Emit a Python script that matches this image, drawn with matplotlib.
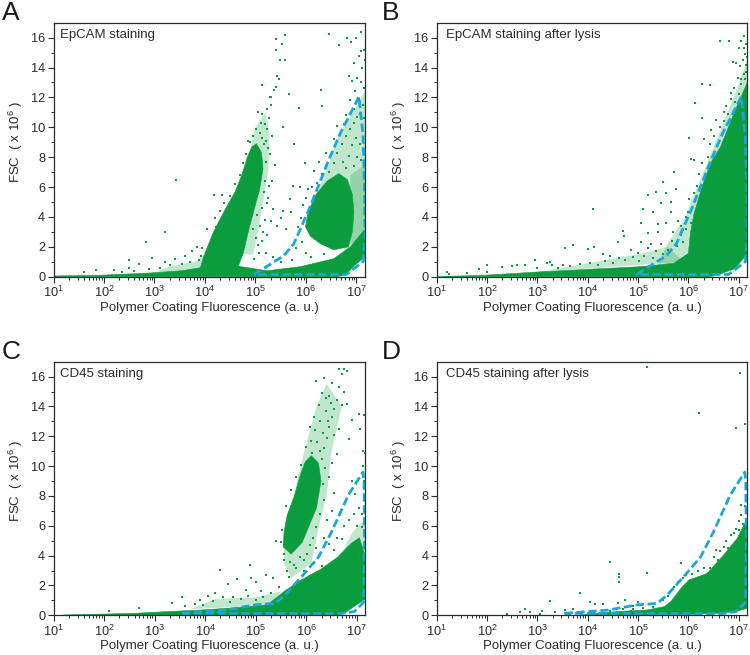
import numpy as np
import matplotlib
matplotlib.use('Agg')
import matplotlib.pyplot as plt
from matplotlib.ticker import FixedLocator, NullFormatter

plt.rcParams['font.family'] = ['Liberation Sans', 'DejaVu Sans']
plt.rcParams['mathtext.default'] = 'regular'

GREEN = '#0b9c3e'
BLUE = '#1ba6d8'
DARK = '#2b2b2b'

# everything below as (log10 fluorescence, FSC x 1e6)
titles = ['EpCAM staining', 'EpCAM staining after lysis', 'CD45 staining', 'CD45 staining after lysis']
letters = ['A', 'B', 'C', 'D']

# gates (dashed blue outlines)
gate_epcam = [(4.97, 0.15), (5.16, 0.55), (5.56, 1.4), (5.76, 2.2), (6.06, 4.5), (6.45, 7.8), (6.68, 9.6),
              (6.85, 10.7), (7.05, 12.05), (7.13, 9.5), (7.16, 6.0), (7.17, 2.5), (7.13, 1.0), (6.8, 0.15), (4.97, 0.15)]
gate_cd45 = [(3.54, 0.13), (4.4, 0.35), (4.99, 0.7), (5.38, 0.8), (5.58, 1.36), (5.91, 2.6), (6.24, 3.9), (6.5, 5.6),
             (6.83, 8.06), (7.12, 9.6), (7.14, 9.0), (7.15, 5.4), (7.14, 0.9), (6.95, 0.25), (6.65, 0.1), (3.54, 0.13)]

# dense areas, outlined
a_core = [[(1.0, 0), (1.0, 0.05), (1.93, 0.1), (2.92, 0.25), (3.54, 0.4), (3.91, 0.6), (3.97, 1.3), (4.05, 2.0), (4.17, 3.0),
           (4.4, 4.5), (4.6, 5.7), (4.74, 6.9), (4.84, 8.0), (4.93, 8.7), (5.02, 8.9), (5.12, 8.3), (5.15, 7.2), (5.08, 5.8),
           (4.95, 4.2), (4.85, 2.9), (4.76, 1.6), (4.66, 0.7), (5.23, 0.4), (5.89, 0.67), (6.55, 1.2), (6.88, 2.0), (7.15, 3.1),
           (7.18, 3.1), (7.18, 1.6), (7.15, 1.3), (6.95, 0.7), (6.78, 0.1), (6.6, 0), (1.0, 0)],
          [(5.99, 3.35), (6.05, 4.4), (6.2, 5.5), (6.42, 6.4), (6.65, 6.9), (6.82, 6.5), (6.92, 5.5), (6.95, 4.3), (6.92, 3.0),
           (6.84, 2.0), (6.55, 1.8), (6.29, 2.2), (6.09, 2.7)]]
a_halo = [[(6.2, 5.5), (6.45, 7.5), (6.65, 9.5), (6.85, 10.5), (7.18, 12.5), (7.18, 1), (6.8, 1.5)],
          [(6.88, 6.8), (7.18, 7.5), (7.18, 2.6), (6.88, 2.2)],
          [(4.9, 8.5), (5.0, 10), (5.2, 11), (5.28, 9.5), (5.25, 7), (5.15, 5), (5.05, 3), (4.95, 1.5), (4.7, 1.5)],
          [(3.0, 0.25), (3.3, 0.7), (3.8, 1.0), (4.05, 1.6), (4.1, 0.4)]]
b_core = [[(1.0, 0), (1.96, 0.1), (3.08, 0.33), (4.0, 0.49), (5.05, 0.67), (5.71, 0.9), (6.0, 1.56), (6.04, 2.9), (6.11, 4.2),
           (6.27, 6.0), (6.44, 7.6), (6.64, 8.7), (6.9, 10.9), (7.17, 13), (7.17, 1.56), (6.93, 0.55), (6.57, 0.1), (6.4, 0), (1.0, 0)]]
b_halo = [[(5.4, 0.8), (5.6, 2.3), (5.95, 4), (6.05, 5), (6.3, 7), (6.6, 9.5), (6.9, 12), (7.17, 14.5), (7.17, 8), (6.2, 1)],
          [(3.0, 0.3), (4.0, 0.9), (5.0, 1.5), (5.6, 2.0), (5.9, 1.0)]]
c_core = [[(5.56, 5.6), (5.62, 6.7), (5.77, 8.06), (5.88, 9.4), (5.98, 10.3), (6.1, 10.7), (6.24, 10.2), (6.29, 9.0), (6.2, 7.2),
           (6.06, 6.05), (5.92, 4.9), (5.7, 4.1), (5.54, 4.6)],
          [(1.2, 0.02), (2.59, 0.13), (3.25, 0.25), (3.9, 0.35), (4.57, 0.5), (5.23, 0.7), (5.56, 1.6), (5.89, 2.35), (6.29, 3.1),
           (6.62, 3.9), (6.88, 4.8), (7.05, 5.2), (7.17, 3.9), (7.17, 1.1), (6.95, 0.6), (6.75, 0.13), (6.6, 0), (1.2, 0)]]
c_halo = [[(5.56, 3.5), (5.55, 5), (5.85, 9.5), (6.0, 11.5), (6.2, 14), (6.4, 15.5), (6.7, 14), (6.5, 11), (6.4, 8), (6.25, 6),
           (6.1, 3.5), (5.7, 2.5)],
          [(6.6, 3.5), (6.9, 5.5), (7.17, 6.5), (7.17, 3), (7, 1.5), (6.7, 1)],
          [(3.7, 0.4), (4.2, 1.1), (5.0, 1.2), (5.5, 1.6), (5.3, 0.7)]]
d_core = [[(3.87, 0.03), (4.59, 0.25), (5.19, 0.36), (5.52, 0.58), (5.65, 0.92), (5.85, 1.8), (6.01, 2.37), (6.37, 2.8), (6.7, 4.04),
           (6.97, 5.16), (7.17, 6.5), (7.17, 0.47), (6.98, 0.3), (6.7, 0.15), (5.9, 0.05)]]
d_halo = []

# single events outside the dense areas
a_dots = [(5.41, 15.9), (5.59, 16.15), (5.53, 15.6), (5.4, 15.2), (5.49, 14.5), (5.59, 14.5), (5.43, 13.4), (5.46, 13.2), (5.4, 12.7),
          (5.13, 12.8), (5.36, 12.5), (5.3, 12.05), (5.66, 12.2), (5.87, 11.3), (6.29, 12.5), (6.32, 11.4), (5.55, 10), (5.76, 8.9),
          (3.43, 6.5), (3.2, 3), (2.84, 2.35), (2.49, 1.15), (4.17, 5.5), (4.34, 5.5), (6.45, 16.25), (6.82, 16), (6.65, 15.5),
          (6.9, 15.7), (7.0, 16), (7.1, 16.4), (7.15, 15.2), (7.1, 15.1), (7.05, 14.8), (6.95, 14.3), (7.12, 14), (7.17, 14.5),
          (6.85, 13.4), (6.92, 13.1), (7.02, 13.3), (7.1, 13), (7.15, 12.6), (6.97, 12.4), (7.05, 11.9), (7.14, 11.5), (6.88, 11.8),
          (6.95, 11.2), (7.08, 10.9), (7.16, 10.6), (6.8, 10.8), (6.75, 10.2), (6.62, 10.1), (6.55, 9.2), (6.4, 8.3), (6.25, 7.7),
          (6.15, 7.1), (5.98, 7.6), (5.88, 6.0), (5.75, 6.1), (5.68, 5.2), (5.7, 4.3), (5.55, 4.4), (5.5, 3.9), (5.42, 3.4), (5.6, 3.2),
          (5.35, 4.5), (5.3, 3.7), (5.25, 5.3), (5.33, 6.4), (5.38, 7.5), (5.28, 8.2), (5.2, 9.1), (5.1, 9.6), (5.02, 9.9), (4.95, 9.4),
          (5.27, 10.6), (5.22, 11.2), (5.3, 11.5), (5.18, 10.2), (5.13, 10.9), (5.8, 1.9), (5.93, 2.3), (5.72, 1.1), (5.5, 1.0), (5.35, 1.3),
          (5.2, 1.6), (5.13, 2.4), (5.22, 2.8), (5.05, 2.1), (3.6, 1.4), (3.75, 1.7), (3.85, 2.0), (3.95, 1.9), (3.4, 1.2), (3.2, 1.0),
          (2.95, 1.25), (2.7, 0.85), (2.5, 0.6), (2.2, 0.45), (1.85, 0.45), (1.6, 0.3), (4.05, 3.2), (4.2, 3.9), (4.3, 4.4), (4.5, 5.4),
          (4.6, 6.2), (4.7, 6.8), (4.75, 7.6), (4.82, 8.2), (4.85, 9.1), (4.9, 9.0), (6.05, 5.9), (6.0, 5.3), (5.95, 4.8), (5.9, 3.9),
          (5.85, 3.3), (6.35, 1.5), (6.1, 1.3), (6.0, 1.6),
          (5.2, 7.7), (5.24, 8.6), (5.17, 8.9), (5.12, 9.3), (5.19, 6.4), (5.16, 5.7), (5.22, 4.9), (5.13, 4.6), (5.18, 3.8), (5.09, 3.4),
          (5.14, 3.0), (5.02, 2.6), (5.08, 1.6), (4.98, 1.2), (4.95, 3.2), (5.03, 4.1), (5.26, 6.1), (5.07, 6.9), (5.11, 10.3), (5.23, 9.9),
          (5.32, 9.4), (5.06, 11.0), (5.28, 12.0), (4.22, 3.3), (4.28, 3.6), (4.38, 4.9), (4.52, 4.9), (3.92, 1.4), (3.88, 1.1), (3.7, 1.0),
          (3.55, 0.85), (3.3, 0.75), (3.1, 0.6), (2.9, 0.5), (2.6, 0.4), (2.35, 0.3), (6.12, 6.0), (6.22, 6.3), (6.32, 6.9), (6.45, 7.0),
          (6.55, 7.6), (6.62, 8.3), (6.72, 8.9), (6.8, 9.4), (6.88, 9.9), (6.95, 10.3), (7.02, 10.7), (6.74, 7.7), (6.85, 8.1), (6.92, 8.8),
          (7.0, 9.3), (7.07, 8.9), (7.12, 9.9), (7.02, 8.0), (7.1, 7.8), (6.96, 7.4), (6.8, 7.3), (7.14, 8.4)]
b_dots = [(1.2, 0.3), (1.25, 0.15), (1.6, 0.25), (1.85, 0.5), (2.0, 0.3), (2.0, 0.75), (2.3, 0.65), (2.5, 0.7), (2.6, 0.8), (2.75, 0.8),
          (2.95, 1.1), (3.0, 0.6), (3.2, 0.9), (3.25, 1.0), (3.3, 0.75), (3.5, 0.8), (3.55, 1.9), (3.7, 2.15), (4.0, 1.85), (4.1, 4.5),
          (4.12, 2.0), (4.3, 1.5), (4.45, 1.4), (4.6, 2.3), (4.7, 3.05), (4.72, 2.7), (4.85, 1.8), (5.0, 1.6), (5.05, 2.3), (5.05, 3.6),
          (5.1, 4.5), (5.2, 2.9), (5.2, 5.5), (5.25, 2.2), (5.3, 4.3), (5.35, 5.7), (5.4, 3.5), (5.4, 3.0), (5.45, 4.9), (5.5, 6.35),
          (5.55, 5.6), (5.55, 3.6), (5.65, 5.0), (5.65, 4.3), (5.7, 3.0), (5.75, 5.9), (5.8, 3.7), (5.85, 2.8), (5.95, 4.0), (5.72, 7.0),
          (6.02, 9.3), (6.05, 7.9), (6.12, 7.8), (6.13, 11.6), (6.27, 10.6), (6.28, 12.9), (6.42, 12.85), (6.3, 9.2), (6.45, 9.8),
          (6.55, 10.5), (6.63, 15.8), (6.8, 15.8), (6.88, 14.4), (6.95, 14.3), (7.0, 15.3), (7.05, 15.75), (7.1, 16.1), (7.15, 15.6),
          (7.12, 14.9), (7.05, 13.2), (6.98, 13.3), (7.15, 14.2), (6.9, 12.6), (6.85, 11.9), (6.75, 11.4), (6.7, 11.0),
          (3.4, 0.55), (3.65, 0.7), (3.85, 0.85), (4.05, 0.95), (4.2, 0.8), (4.35, 1.05), (4.5, 0.9), (4.62, 1.25), (4.75, 1.1), (4.9, 1.3),
          (5.02, 1.05), (5.12, 1.4), (5.2, 1.9), (5.3, 1.25), (5.35, 1.75), (5.45, 2.2), (5.5, 1.5), (5.6, 1.8), (5.68, 2.4), (5.78, 2.05),
          (5.85, 3.4), (5.9, 2.3), (5.95, 3.2), (6.0, 4.3), (6.05, 3.6), (6.02, 5.2), (6.12, 5.6), (6.18, 6.1), (6.22, 6.9), (6.28, 7.6),
          (6.38, 8.0), (6.42, 8.9), (6.5, 9.4), (6.62, 10.0), (6.7, 10.4), (6.78, 10.9), (6.85, 12.3), (6.93, 11.7), (7.0, 12.2), (7.05, 12.9),
          (7.1, 13.6), (7.13, 13.2), (7.02, 14.1), (7.08, 14.5), (7.15, 13.7), (7.16, 14.7), (7.11, 15.3)]
c_dots = [(1.6, 0.05), (2.1, 0.3), (2.7, 0.5), (3.35, 0.85), (3.55, 1.2), (3.9, 1.0), (4.05, 1.3), (4.2, 1.5), (4.3, 3.05), (4.45, 2.1), (4.55, 1.2),
          (4.62, 2.4), (4.8, 1.7), (4.88, 3.4), (4.9, 2.5), (5.0, 2.2), (5.1, 1.6), (5.2, 2.7), (5.35, 2.5), (5.4, 5.0), (5.45, 1.9), (5.55, 3.7),
          (5.62, 3.0), (5.65, 2.6), (5.75, 3.4), (5.95, 3.0), (6.15, 3.5), (6.3, 3.3), (6.2, 4.5), (6.35, 5.2), (6.4, 6.4), (6.5, 7.0), (6.55, 8.2),
          (6.45, 9.3), (6.5, 10.2), (6.6, 10.8), (6.55, 12.1), (6.65, 12.5), (6.7, 14.1), (6.8, 14.15), (6.75, 15.0), (6.65, 15.3), (6.7, 16.2),
          (6.75, 16.5), (6.65, 16.5), (6.8, 16.4), (6.35, 15.9), (6.5, 15.6), (6.45, 14.7), (6.2, 15.7), (6.3, 14.9), (6.9, 13.1), (7.05, 13.5),
          (7.15, 13.4), (7.07, 12.5), (7.13, 11.0), (7.16, 10.9), (7.12, 10.0), (7.15, 9.0), (6.85, 11.8), (6.9, 9.0), (6.97, 8.1), (7.05, 7.2),
          (7.1, 6.8), (6.95, 6.8), (6.85, 6.4), (6.75, 6.0), (7.0, 6.0), (7.1, 5.9), (7.15, 5.3), (6.6, 5.2), (6.7, 5.1), (6.45, 4.8), (6.55, 4.4),
          (6.3, 10.5), (6.35, 11.2), (6.4, 11.9), (6.45, 12.6), (6.5, 13.3), (6.38, 13.7), (6.28, 13.0), (6.18, 12.4), (6.1, 11.7), (6.22, 11.6),
          (6.32, 12.2), (6.42, 13.0), (6.55, 13.8), (6.6, 14.4), (6.48, 14.2), (6.38, 14.6), (6.25, 14.1), (6.15, 13.3), (6.08, 12.6), (6.0, 11.3),
          (6.12, 10.9), (6.27, 11.0), (6.36, 9.9), (6.33, 8.8), (6.35, 7.7), (6.28, 6.8), (6.2, 5.9), (6.14, 5.2), (6.08, 4.7), (6.02, 4.1),
          (5.96, 3.7), (5.88, 3.9), (5.8, 3.2), (5.68, 3.6), (5.55, 4.1), (5.5, 4.9), (5.52, 5.7), (5.6, 7.3), (5.7, 8.4), (5.8, 9.3), (5.9, 10.1),
          (4.15, 0.95), (4.35, 1.2), (4.5, 0.9), (4.7, 1.1), (4.85, 1.3), (5.0, 1.0), (5.15, 1.2), (5.3, 1.5), (3.8, 0.75), (3.6, 0.6), (3.95, 0.7)]
d_dots = [(2.4, 0.1), (2.65, 0.2), (2.75, 0.45), (2.85, 0.2), (3.05, 0.1), (3.1, 0.3), (3.25, 0.95), (3.35, 0.25), (3.55, 0.35),
          (3.7, 0.45), (3.8, 0.2), (4.05, 0.9), (4.15, 0.75), (4.3, 0.75), (4.45, 0.3), (4.6, 0.85), (4.75, 1.0), (4.85, 0.3),
          (4.9, 0.6), (5.0, 0.9), (3.85, 1.5), (4.45, 3.6), (4.62, 2.8), (4.62, 2.6), (4.62, 2.25), (5.18, 2.85), (5.18, 16.65),
          (6.22, 13.55), (6.95, 12.55), (7.03, 16.25), (7.12, 12.85), (5.85, 3.5), (5.65, 1.6), (5.9, 2.5), (6.3, 3.2), (6.5, 3.9),
          (6.55, 4.4), (6.7, 4.6), (6.85, 5.4), (6.95, 5.8), (7.0, 6.3), (7.05, 6.7), (7.12, 7.3), (7.05, 7.4), (6.75, 5.0),
          (5.5, 1.0), (5.6, 1.3), (5.72, 1.9), (5.8, 2.2), (5.95, 2.7), (6.08, 2.8), (6.2, 3.0), (6.42, 3.2), (6.58, 3.7), (6.62, 4.3),
          (6.78, 4.5), (6.9, 5.5), (7.0, 5.7), (7.08, 6.1), (7.14, 6.9), (5.3, 0.55), (5.1, 0.5), (4.9, 0.4), (4.7, 0.4)]

panels = [(gate_epcam, a_core, a_halo, a_dots), (gate_epcam, b_core, b_halo, b_dots),
          (gate_cd45, c_core, c_halo, c_dots), (gate_cd45, d_core, d_halo, d_dots)]

W, H = 750, 655
# axes boxes in pixels: left, top, right, bottom
boxes = [(53.5, 22.7, 365, 276.7), (436.7, 22.7, 747.3, 276.7), (53.5, 361.7, 365.5, 615.3), (436.7, 361.7, 747.3, 615.3)]

fig = plt.figure(figsize=(W / 100, H / 100), dpi=100)
decades = np.arange(1, 8)
minor = [d + np.log10(m) for d in range(1, 8) for m in range(2, 10) if d + np.log10(m) < 7.17]

for i in range(4):
    gate, core, halo, dots = panels[i]
    l, t, r, b = boxes[i]
    ax = fig.add_axes([l / W, 1 - b / H, (r - l) / W, (b - t) / H])
    ax.set_xscale('log')
    for poly in halo:
        px, py = zip(*poly)
        ax.fill(10 ** np.array(px), py, color=GREEN, alpha=0.25, lw=0)
    for poly in core:
        px, py = zip(*poly)
        ax.fill(10 ** np.array(px), py, color=GREEN, lw=0.4)
    dx, dy = zip(*dots)
    ax.scatter(10 ** np.array(dx), dy, s=1.3, marker='s', color=GREEN, lw=0)
    gx, gy = zip(*gate)
    ax.plot(10 ** np.array(gx), gy, color=BLUE, lw=2.0, ls=(0, (3, 1.3)))

    ax.set_xlim(10, 10 ** 7.17)
    ax.set_ylim(0, 17)
    ax.xaxis.set_major_locator(FixedLocator(10.0 ** decades))
    ax.xaxis.set_minor_locator(FixedLocator(10 ** np.array(minor)))
    ax.xaxis.set_minor_formatter(NullFormatter())
    ax.set_xticklabels(['$10^{%d}$' % d for d in decades])
    ax.set_yticks(range(0, 17, 2))
    ax.set_yticks(range(1, 17, 2), minor=True)
    ax.tick_params(which='major', length=4, width=0.8, color=DARK, labelsize=9.2, labelcolor=DARK, pad=2)
    ax.tick_params(which='minor', length=2.2, width=0.7, color=DARK)
    for s in ax.spines.values():
        s.set_linewidth(0.9)
        s.set_color(DARK)
    ax.set_xlabel('Polymer Coating Fluorescence (a. u.)', fontsize=9.5, color=DARK)
    ax.xaxis.set_label_coords(0.5, -31 / (b - t), transform=ax.transAxes)
    ax.xaxis.label.set_va('center')
    ax.set_ylabel('FSC  ( x 10$^6$ )', fontsize=9.5, color=DARK)
    ax.yaxis.set_label_coords(-38 / (r - l), 0.53)
    ax.yaxis.label.set_va('center')
    ax.text(0.02 if i % 2 == 0 else 0.03, 0.953, titles[i], transform=ax.transAxes, fontsize=9.5, color=DARK, va='center')
    fig.text((l - 52) / W if i % 2 == 0 else (l - 55) / W, 1 - (t - 9.5) / H, letters[i], fontsize=19, color='#1a1a1a', va='center')

fig.savefig('out.png', dpi=100)
